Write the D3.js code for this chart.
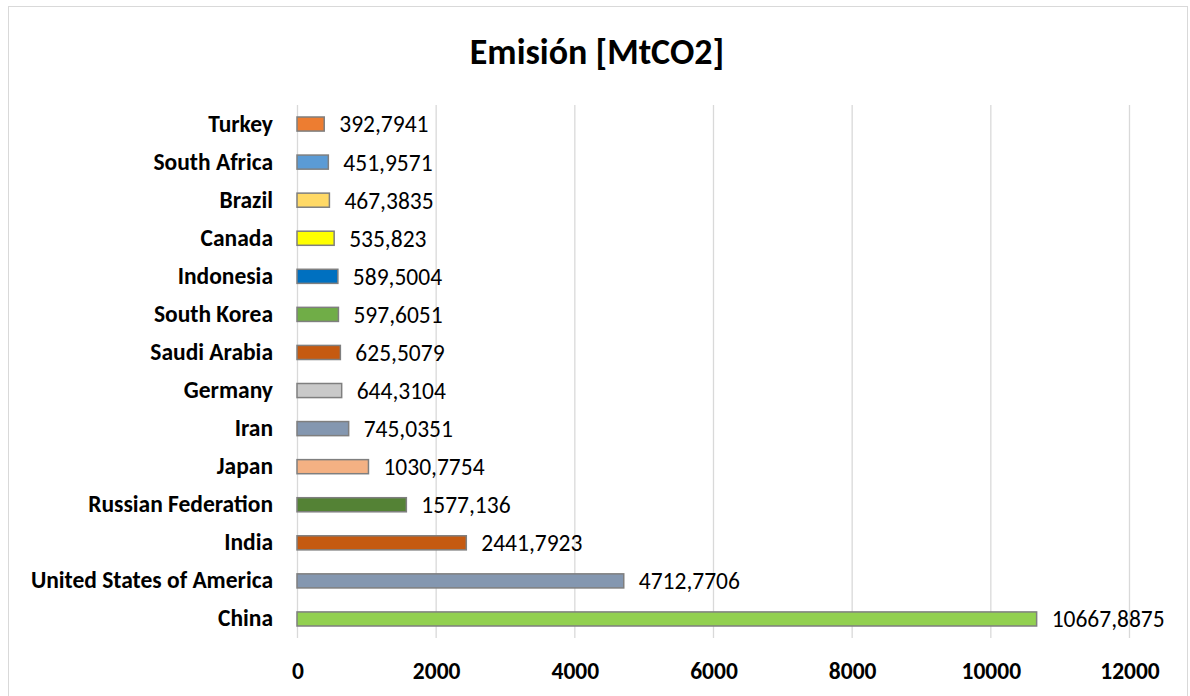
<!DOCTYPE html>
<html>
<head>
<meta charset="utf-8">
<script src="https://cdn.jsdelivr.net/npm/d3@7"></script>
<style>
  html, body { margin: 0; padding: 0; background: #fff; }
  svg { display: block; }
</style>
</head>
<body>
<svg id="chart" width="1190" height="696"></svg>
<script>
// Emissions by country (MtCO2), listed top to bottom as drawn
const countries = ["Turkey", "South Africa", "Brazil", "Canada", "Indonesia", "South Korea",
  "Saudi Arabia", "Germany", "Iran", "Japan", "Russian Federation", "India",
  "United States of America", "China"];
const emissions = [392.7941, 451.9571, 467.3835, 535.823, 589.5004, 597.6051,
  625.5079, 644.3104, 745.0351, 1030.7754, 1577.136, 2441.7923, 4712.7706, 10667.8875];
const valueLabels = ["392,7941", "451,9571", "467,3835", "535,823", "589,5004", "597,6051",
  "625,5079", "644,3104", "745,0351", "1030,7754", "1577,136", "2441,7923", "4712,7706", "10667,8875"];
const barColors = ["#ED7D31", "#5B9BD5", "#FFD966", "#FFFF00", "#0070C0", "#70AD47",
  "#C55A11", "#C9C9C9", "#8497B0", "#F4B183", "#548235", "#C55A11", "#8497B0", "#92D050"];
const xTicks = [0, 2000, 4000, 6000, 8000, 10000, 12000];
const title = "Emisión [MtCO2]";

const font = "Carlito, Calibri, 'Open Sans', sans-serif";
const labelSize = 23.5;
const svg = d3.select("#chart");

// Chart frame
svg.append("rect")
  .attr("x", 8.5).attr("y", 6.5).attr("width", 1179).attr("height", 700)
  .attr("fill", "#fff").attr("stroke", "#d9d9d9").attr("stroke-width", 1);

const plot = { left: 297, right: 1129, top: 105, bottom: 638 };

const x = d3.scaleLinear().domain([0, 12000]).range([plot.left, plot.right]);
const y = d3.scaleBand().domain(countries).range([plot.top, plot.bottom]).paddingInner(0.63).paddingOuter(0.315);

// Vertical gridlines
svg.append("g")
  .selectAll("line")
  .data(xTicks)
  .join("line")
  .attr("x1", d => x(d) + 0.5).attr("x2", d => x(d) + 0.5)
  .attr("y1", plot.top).attr("y2", plot.bottom)
  .attr("stroke", "#d9d9d9").attr("stroke-width", 1.3);

// Bars
svg.append("g")
  .selectAll("rect")
  .data(countries)
  .join("rect")
  .attr("x", x(0))
  .attr("y", d => y(d))
  .attr("width", (d, i) => x(emissions[i]) - x(0))
  .attr("height", y.bandwidth())
  .attr("fill", (d, i) => barColors[i])
  .attr("stroke", "#7f7f7f")
  .attr("stroke-width", 1.5);

// Value labels
svg.append("g")
  .selectAll("text")
  .data(countries)
  .join("text")
  .attr("x", (d, i) => x(emissions[i]) + 15)
  .attr("y", d => y(d) + y.bandwidth() / 2)
  .attr("dy", "0.36em")
  .attr("font-family", font)
  .attr("font-size", labelSize)
  .attr("fill", "#000")
  .text((d, i) => valueLabels[i]);

// Category axis
const yAxis = svg.append("g")
  .attr("transform", `translate(${plot.left},0)`)
  .call(d3.axisLeft(y).tickSize(0).tickPadding(24));
yAxis.select(".domain").remove();
yAxis.selectAll("text")
  .attr("font-family", font)
  .attr("font-size", labelSize)
  .attr("font-weight", "bold")
  .attr("fill", "#000");

// Value axis
const xAxis = svg.append("g")
  .attr("transform", `translate(0.5,${plot.bottom})`)
  .call(d3.axisBottom(x).tickValues(xTicks).tickFormat(d3.format("d")).tickSize(0).tickPadding(24));
xAxis.select(".domain").remove();
xAxis.selectAll("text")
  .attr("font-family", font)
  .attr("font-size", labelSize)
  .attr("font-weight", "bold")
  .attr("fill", "#000");

// Title
svg.append("text")
  .attr("x", 597).attr("y", 64)
  .attr("text-anchor", "middle")
  .attr("font-family", font)
  .attr("font-size", 36)
  .attr("font-weight", "bold")
  .attr("fill", "#000")
  .text(title);
</script>
</body>
</html>
